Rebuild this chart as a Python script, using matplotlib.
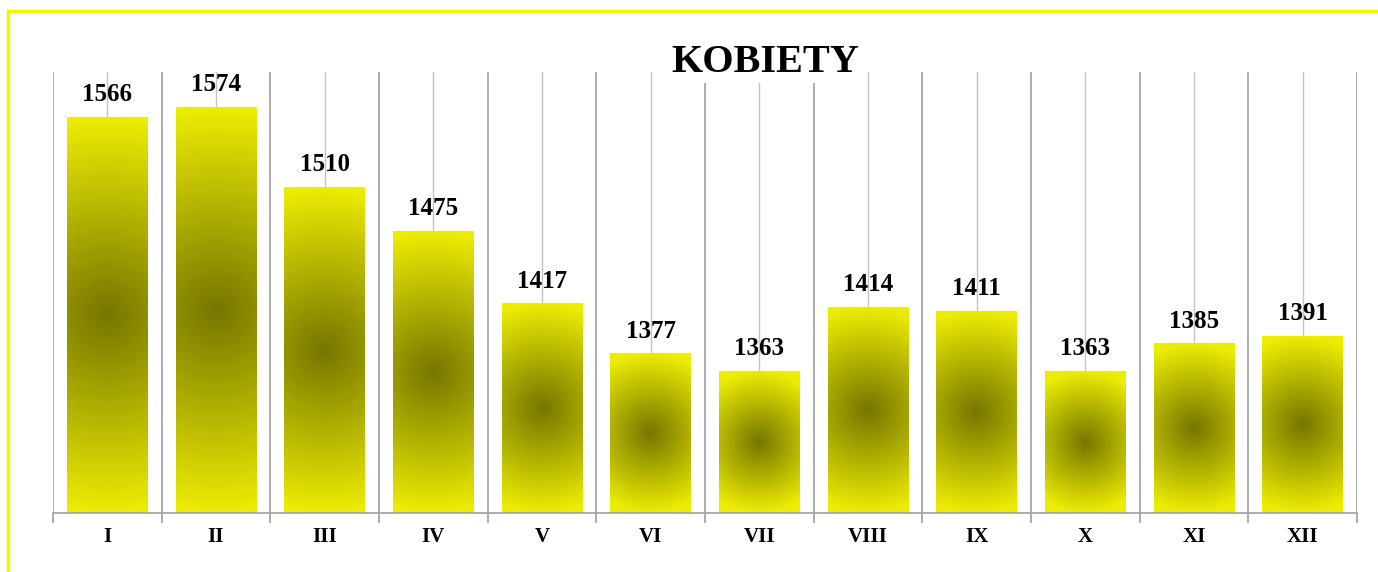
import matplotlib.pyplot as plt
import numpy as np
from matplotlib.patches import Rectangle

months = ["I", "II", "III", "IV", "V", "VI", "VII", "VIII", "IX", "X", "XI", "XII"]
values = [1566, 1574, 1510, 1475, 1417, 1377, 1363, 1414, 1411, 1363, 1385, 1391]

plt.rcParams["font.family"] = ["Liberation Serif", "DejaVu Serif"]

fig = plt.figure(figsize=(13.78, 5.72), dpi=100)
ax = fig.add_axes([53 / 1378, 1 - 513 / 572, 1304 / 1378, 441 / 572])

ymin, ymax = 1250, 1602
n = len(months)
x = np.arange(n)
width = 0.74

ax.set_xlim(-0.5, n - 0.5)
ax.set_ylim(ymin, ymax)

# grid: darker lines at category boundaries, lighter through bar centres
for b in np.arange(-0.5, n, 1.0):
    ax.axvline(b, color="#a0a0a0", linewidth=1.2, zorder=1)
for c in x:
    ax.axvline(c, color="#c4c4c4", linewidth=1.0, zorder=1)

# radial-gradient bars (dark olive centre -> yellow rim)
dark = np.array([118, 118, 0]) / 255
light = np.array([236, 236, 4]) / 255
yy, xx = np.mgrid[0:1:300j, 0:1:80j]
for xi, v in zip(x, values):
    left, right = xi - width / 2, xi + width / 2
    h = v - ymin
    px_w = width * 1304 / n
    px_h = h * 441 / (ymax - ymin)
    dx = (xx - 0.5) * px_w
    dy = (yy - 0.5) * px_h
    d = np.clip(np.hypot(dx, dy) / (px_h / 2), 0, 1)
    img = dark[None, None, :] + (light - dark)[None, None, :] * d[..., None]
    ax.imshow(img, extent=(left, right, ymin, v), origin="lower",
              aspect="auto", interpolation="bilinear", zorder=2)
    ax.text(xi, v + 9, f"{v}", ha="center", va="bottom",
            fontsize=18, fontweight="bold", zorder=4)

ax.set_xlim(-0.5, n - 0.5)
ax.set_ylim(ymin, ymax)

for side in ("top", "right", "left"):
    ax.spines[side].set_visible(False)
ax.spines["bottom"].set_color("#a0a0a0")
ax.spines["bottom"].set_linewidth(1.2)
ax.set_yticks([])
ax.set_xticks(np.arange(-0.5, n, 1.0), minor=True)
ax.set_xticks(x)
ax.set_xticklabels(months, fontsize=15, fontweight="bold")
ax.tick_params(axis="x", which="major", length=0, pad=10)
ax.tick_params(axis="x", which="minor", length=7, color="#a0a0a0", width=1.2)

fig.text(765 / 1378, 1 - 63 / 572, "KOBIETY", ha="center", va="center",
         fontsize=29, fontweight="bold",
         bbox=dict(facecolor="white", edgecolor="none", pad=1), zorder=5)

# yellow frame (only top and left edges visible in the original)
fig.add_artist(Rectangle((8 / 1378, -0.1), 1.2, 1 - 11 / 572 + 0.1,
                         transform=fig.transFigure, fill=False,
                         edgecolor="#f5f500", linewidth=2.5))

fig.savefig("out.png", dpi=100)
